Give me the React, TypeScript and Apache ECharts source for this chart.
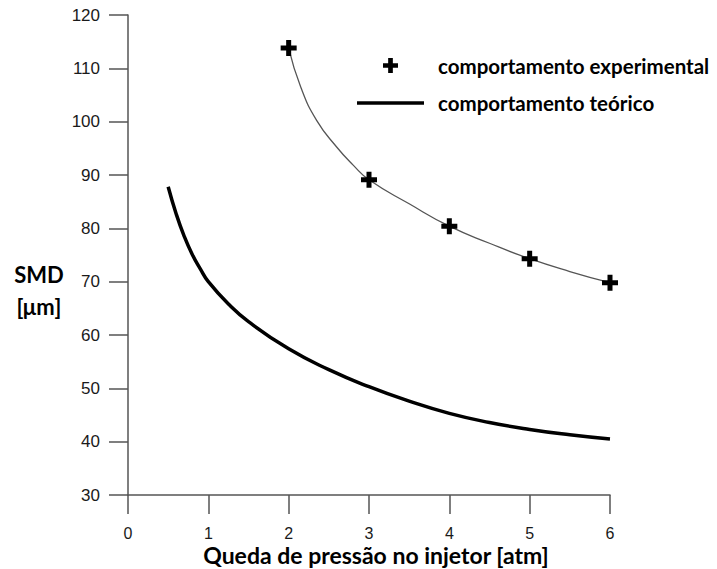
import React, { useEffect, useRef } from "react";
import * as echarts from "echarts";

// Experimental measurements (markers)
const expX = [2, 3, 4, 5, 6];
const expY = [113.8, 89.1, 80.4, 74.3, 69.8];

// Fitted curve through the experimental points (thin grey line)
const fitX = [2, 2.15, 2.35, 2.6, 2.8, 3, 3.5, 4, 4.5, 5, 5.5, 6];
const fitY = [113.8, 106.5, 100.2, 95.2, 91.9, 89.1, 84.6, 80.4, 77.2, 74.3, 71.9, 69.8];

// Theoretical behaviour (thick black line)
const theoX = [0.5, 0.6, 0.7, 0.8, 0.9, 1.0, 1.25, 1.5, 2.0, 2.5, 3.0, 3.5, 4.0, 4.5, 5.0, 5.5, 6.0];
const theoY = [87.8, 82.7, 78.5, 75.1, 72.4, 70.0, 65.8, 62.5, 57.4, 53.5, 50.3, 47.6, 45.3, 43.6, 42.3, 41.3, 40.5];

const seriesNames = ["comportamento experimental", "comportamento teórico"];
const xTitle = "Queda de pressão no injetor [atm]";
const yTitleLines = ["SMD", "[μm]"];

const PLUS = "path://M5.5,0H10.5V5.5H16V10.5H10.5V16H5.5V10.5H0V5.5H5.5Z";
const LINE_ICON = "path://M0,0H67V3.5H0Z";

const zip = (xs: number[], ys: number[]) => xs.map((x, i) => [x, ys[i]]);

export default function App() {
  const ref = useRef<HTMLDivElement>(null);
  useEffect(() => {
    if (!ref.current) return;
    const chart = echarts.init(ref.current, null, { renderer: "svg" });
    const axisColor = "#555";
    const tickFont = {
      fontFamily: "Liberation Sans, Arial, sans-serif",
      fontSize: 17,
      color: "#1a1a1a",
    };
    const titleFont = {
      fontFamily: "Lato, sans-serif",
      fontWeight: "bold",
      fill: "#000",
    };
    chart.setOption({
      animation: false,
      backgroundColor: "#fff",
      grid: { left: 128, top: 15, width: 482, height: 480, containLabel: false },
      xAxis: {
        type: "value",
        min: 0,
        max: 6,
        interval: 1,
        axisLine: { show: true, onZero: false, lineStyle: { color: axisColor, width: 1.5 } },
        axisTick: { show: true, inside: false, length: 19, lineStyle: { color: axisColor, width: 1.5 } },
        axisLabel: { ...tickFont, fontSize: 16, margin: 30 },
        splitLine: { show: false },
      },
      yAxis: {
        type: "value",
        min: 30,
        max: 120,
        interval: 10,
        axisLine: { show: true, onZero: false, lineStyle: { color: axisColor, width: 1.5 } },
        axisTick: { show: true, inside: false, length: 19, lineStyle: { color: axisColor, width: 1.5 } },
        axisLabel: { ...tickFont, margin: 28 },
        splitLine: { show: false },
      },
      legend: {
        orient: "vertical",
        left: 352,
        top: 50,
        itemWidth: 67,
        itemHeight: 15,
        itemGap: 16.5,
        symbolKeepAspect: true,
        data: [
          { name: seriesNames[0], icon: PLUS },
          { name: seriesNames[1], icon: LINE_ICON },
        ],
        textStyle: {
          fontFamily: "Lato, sans-serif",
          fontWeight: "bold",
          fontSize: 20.5,
          color: "#000",
          padding: [0, 0, 0, 9],
        },
      },
      graphic: [
        {
          type: "text",
          x: 376,
          y: 555,
          style: {
            ...titleFont,
            text: xTitle,
            align: "center",
            verticalAlign: "middle",
            fontSize: 23,
          },
        },
        {
          type: "text",
          x: 39,
          y: 274,
          style: {
            ...titleFont,
            text: yTitleLines[0],
            align: "center",
            verticalAlign: "middle",
            fontSize: 22,
          },
        },
        {
          type: "text",
          x: 39,
          y: 306,
          style: {
            ...titleFont,
            text: yTitleLines[1],
            align: "center",
            verticalAlign: "middle",
            fontSize: 22,
          },
        },
      ],
      series: [
        {
          name: "ajuste",
          type: "line",
          data: zip(fitX, fitY),
          smooth: 0.5,
          symbol: "none",
          lineStyle: { color: "#555", width: 1.3 },
          z: 2,
          silent: true,
        },
        {
          name: seriesNames[0],
          type: "scatter",
          data: zip(expX, expY),
          symbol: PLUS,
          symbolSize: 16,
          symbolKeepAspect: true,
          itemStyle: { color: "#000", opacity: 1 },
          z: 4,
        },
        {
          name: seriesNames[1],
          type: "line",
          data: zip(theoX, theoY),
          smooth: 0.5,
          symbol: "none",
          itemStyle: { color: "#000" },
          lineStyle: { color: "#000", width: 3.5 },
          z: 3,
        },
      ],
    });
    return () => chart.dispose();
  }, []);
  return (
    <div
      ref={ref}
      style={{ position: "absolute", left: 0, top: 0, width: 717, height: 569 }}
    />
  );
}
